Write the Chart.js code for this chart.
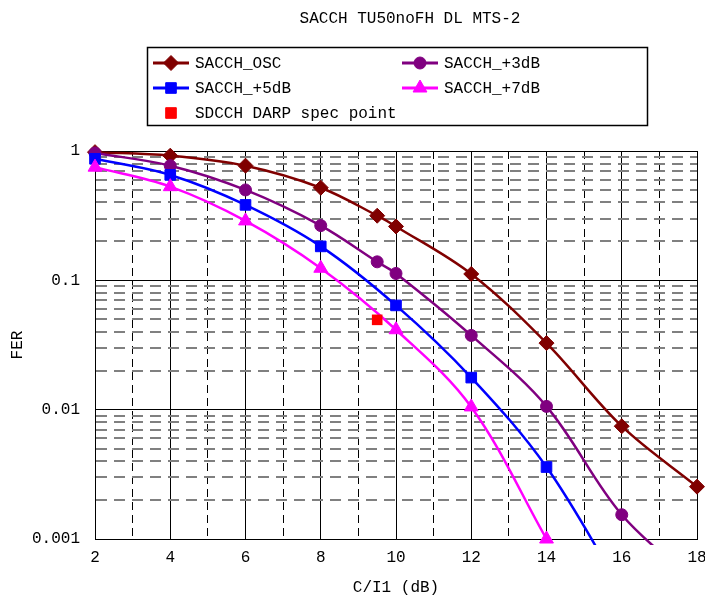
<!DOCTYPE html>
<html><head><meta charset="utf-8">
<script src="https://cdn.jsdelivr.net/npm/chart.js@4.4.1/dist/chart.umd.min.js"></script>
<style>html,body{margin:0;padding:0;background:#fff;}#wrap{width:705px;height:599px;}</style>
</head><body><div id="wrap"><canvas id="c" width="705" height="599"></canvas></div>
<script>
const chartTitle = 'SACCH TU50noFH DL MTS-2';
const xTitle = 'C/I1 (dB)';
const yTitle = 'FER';
const seriesNames = ['SACCH_OSC', 'SACCH_+3dB', 'SACCH_+5dB', 'SACCH_+7dB'];
const specName = 'SDCCH DARP spec point';

const oscX = [2, 4, 6, 8, 9.5, 10, 12, 14, 16, 18];
const oscY = [0.98, 0.92, 0.77, 0.52, 0.316, 0.261, 0.112, 0.0327, 0.00745, 0.00254];
const p3X = [2, 4, 6, 8, 9.5, 10, 12, 14, 16, 18];
const p3Y = [0.966, 0.77, 0.50, 0.265, 0.139, 0.113, 0.0375, 0.0106, 0.00154, 0.00045];
const p5X = [2, 4, 6, 8, 10, 12, 14, 16];
const p5Y = [0.87, 0.653, 0.383, 0.183, 0.064, 0.0177, 0.0036, 0.0004];
const p7X = [2, 4, 6, 8, 10, 12, 14];
const p7Y = [0.75, 0.53, 0.288, 0.124, 0.0415, 0.0105, 0.001];
const specX = [9.5];
const specY = [0.0495];

const xTicks = [2, 3, 4, 5, 6, 7, 8, 9, 10, 11, 12, 13, 14, 15, 16, 17, 18];
const xLabelTicks = [2, 4, 6, 8, 10, 12, 14, 16, 18];
const yTicks = [0.001, 0.002, 0.003, 0.004, 0.005, 0.006, 0.007, 0.008, 0.009,
                0.01, 0.02, 0.03, 0.04, 0.05, 0.06, 0.07, 0.08, 0.09,
                0.1, 0.2, 0.3, 0.4, 0.5, 0.6, 0.7, 0.8, 0.9, 1];
const yLabelTicks = [0.001, 0.01, 0.1, 1];
const yTickLabels = ['0.001', '0.01', '0.1', '1'];

const FONT = '"Liberation Mono", "DejaVu Sans Mono", monospace';
const zip = (xs, ys) => xs.map((x, i) => ({x: x, y: ys[i]}));
const colors = ['#800000', '#800080', '#0000FF', '#FF00FF'];
const shapes = ['rectRot', 'circle', 'rect', 'triangle'];
const radii = [7.5, 6, 7.5, 8];
const xs = [oscX, p3X, p5X, p7X];
const ys = [oscY, p3Y, p5Y, p7Y];

const datasets = seriesNames.map((name, i) => ({
  type: 'line',
  label: name,
  data: zip(xs[i], ys[i]),
  borderColor: colors[i],
  backgroundColor: colors[i],
  borderWidth: 2.5,
  pointStyle: shapes[i],
  pointRadius: radii[i],
  pointHoverRadius: radii[i],
  pointBackgroundColor: colors[i],
  pointBorderColor: colors[i],
  pointBorderWidth: 1,
  tension: 0.35,
  clip: {left: 10, top: 10, right: 10, bottom: 6},
  order: 10 - i
}));
datasets.push({
  type: 'line',
  label: specName,
  data: zip(specX, specY),
  showLine: false,
  borderColor: '#FF0000',
  backgroundColor: '#FF0000',
  pointStyle: 'rect',
  pointRadius: 7.5,
  pointHoverRadius: 7.5,
  pointBorderWidth: 0,
  order: 0
});

function legendPoint(ctx, style, r, x, y, color) {
  ctx.fillStyle = color; ctx.strokeStyle = color;
  if (Chart.helpers && Chart.helpers.drawPoint) {
    Chart.helpers.drawPoint(ctx, {pointStyle: style, radius: r, rotation: 0, borderWidth: 1}, x, y);
  }
}

const deco = {
  id: 'deco',
  afterDraw(chart) {
    const ctx = chart.ctx;
    ctx.save();
    ctx.fillStyle = '#000';
    ctx.font = '16px ' + FONT;
    ctx.textAlign = 'center';
    ctx.textBaseline = 'middle';
    ctx.fillText(chartTitle, 410, 19);
    ctx.strokeStyle = '#000';
    ctx.lineWidth = 1.5;
    ctx.strokeRect(147.5, 47.5, 500, 78);
    const cols = [153, 402];
    const rows = [63, 88, 113];
    chart.data.datasets.forEach((ds, i) => {
      const lx = cols[i % 2];
      const ly = rows[Math.floor(i / 2)];
      if (ds.showLine !== false) {
        ctx.strokeStyle = ds.borderColor;
        ctx.lineWidth = 3;
        ctx.beginPath(); ctx.moveTo(lx, ly); ctx.lineTo(lx + 36, ly); ctx.stroke();
      }
      ctx.lineWidth = 1;
      legendPoint(ctx, ds.pointStyle, ds.pointRadius, lx + 18, ly, ds.borderColor);
      ctx.fillStyle = '#000';
      ctx.font = '16px ' + FONT;
      ctx.textAlign = 'left';
      ctx.textBaseline = 'middle';
      ctx.fillText(ds.label, lx + 42, ly + 1);
    });
    ctx.restore();
  }
};

new Chart(document.getElementById('c'), {
  data: {datasets: datasets},
  plugins: [deco],
  options: {
    responsive: false,
    animation: false,
    devicePixelRatio: 1,
    layout: {padding: {top: 151, left: 0, right: 8, bottom: 0}, autoPadding: false},
    elements: {line: {capBezierPoints: false}},
    plugins: {legend: {display: false}, tooltip: {enabled: false}, title: {display: false}},
    scales: {
      x: {
        type: 'linear', min: 2, max: 18, position: 'bottom',
        afterBuildTicks: s => { s.ticks = xTicks.map(v => ({value: v})); },
        afterFit: s => { s.height = 60; s.paddingLeft = 0; s.paddingRight = 0; },
        grid: {color: '#000', lineWidth: 1, drawTicks: false},
        border: {color: '#000', width: 1, dash: c => (c.tick && !xLabelTicks.includes(c.tick.value)) ? [8, 5] : []},
        ticks: {padding: 9, color: '#000', font: {family: FONT, size: 16}, autoSkip: false, maxRotation: 0,
                callback: v => xLabelTicks.includes(v) ? String(v) : ''},
        title: {display: true, text: xTitle, color: '#000', font: {family: FONT, size: 16}, padding: {top: 0, bottom: 2}}
      },
      y: {
        type: 'logarithmic', min: 0.001, max: 1, position: 'left',
        afterBuildTicks: s => { s.ticks = yTicks.map(v => ({value: v})); },
        afterFit: s => { s.width = 95; s.paddingTop = 0; s.paddingBottom = 0; },
        grid: {
          drawTicks: false,
          color: c => (c.tick && !yLabelTicks.includes(c.tick.value)) ? '#808080' : '#000',
          lineWidth: c => (c.tick && !yLabelTicks.includes(c.tick.value)) ? 2 : 1
        },
        border: {color: '#000', width: 1, dash: c => (c.tick && !yLabelTicks.includes(c.tick.value)) ? [11, 7] : []},
        ticks: {padding: 15, color: '#000', font: {family: FONT, size: 16}, autoSkip: false,
                callback: v => { const k = yLabelTicks.indexOf(v); return k >= 0 ? yTickLabels[k] : ''; }},
        title: {display: true, text: yTitle, color: '#000', font: {family: FONT, size: 16}, padding: {top: 8, bottom: 0}}
      }
    }
  }
});
</script>
</body></html>
